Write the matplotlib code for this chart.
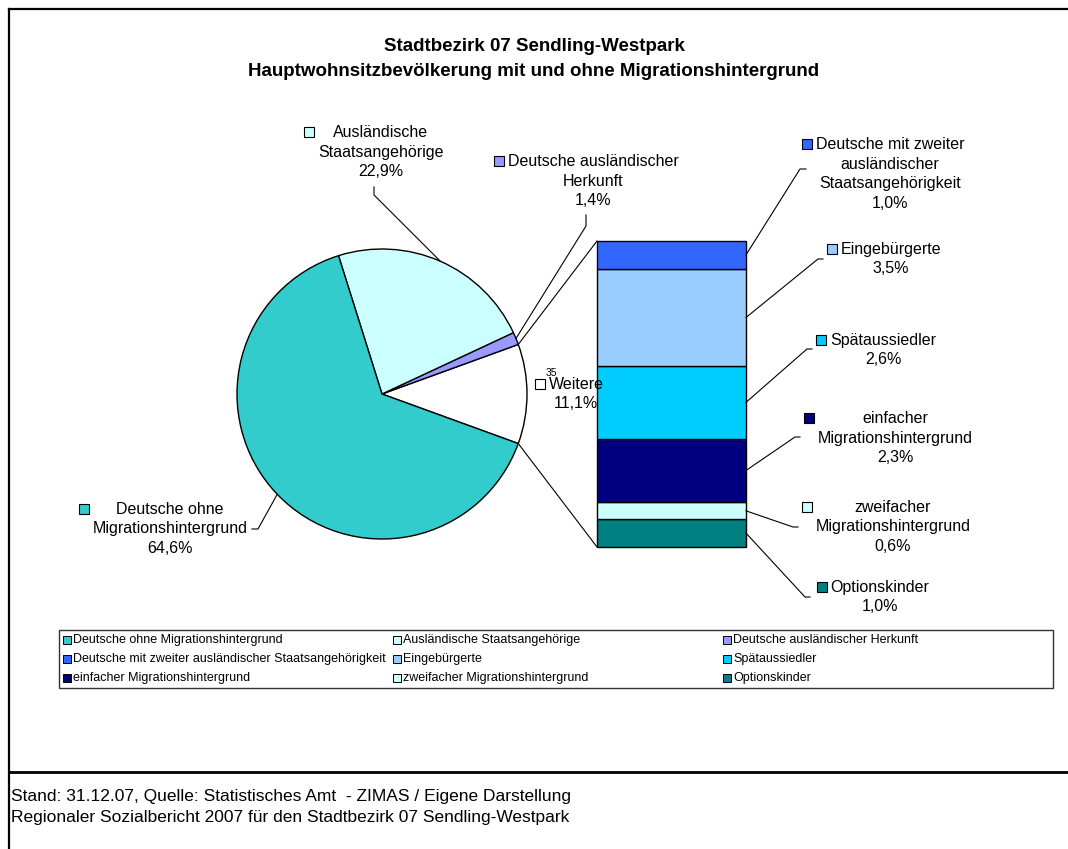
import matplotlib.pyplot as plt
import numpy as np
from matplotlib.patches import Rectangle

plt.rcParams['font.family'] = ['Liberation Sans', 'DejaVu Sans']

###############################################################################
# Data
pie_labels = ["Weitere", "Deutsche ausländischer Herkunft",
              "Ausländische Staatsangehörige",
              "Deutsche ohne Migrationshintergrund"]
pie_values = [11.1, 1.4, 22.9, 64.6]
pie_colors = ["#FFFFFF", "#9999FF", "#CCFFFF", "#33CCCC"]

# bar is stacked from the bottom up
bar_labels = ["Optionskinder", "zweifacher Migrationshintergrund",
              "einfacher Migrationshintergrund", "Spätaussiedler",
              "Eingebürgerte",
              "Deutsche mit zweiter ausländischer Staatsangehörigkeit"]
bar_values = [1.0, 0.6, 2.3, 2.6, 3.5, 1.0]
bar_colors = ["#008080", "#CCFFFF", "#000080", "#00CCFF", "#99CCFF", "#3366FF"]

# how the data labels break into lines
wrapped = {
    "Weitere": "Weitere",
    "Deutsche ausländischer Herkunft": "Deutsche ausländischer\nHerkunft",
    "Ausländische Staatsangehörige": "Ausländische\nStaatsangehörige",
    "Deutsche ohne Migrationshintergrund": "Deutsche ohne\nMigrationshintergrund",
    "Optionskinder": "Optionskinder",
    "zweifacher Migrationshintergrund": "zweifacher\nMigrationshintergrund",
    "einfacher Migrationshintergrund": "einfacher\nMigrationshintergrund",
    "Spätaussiedler": "Spätaussiedler",
    "Eingebürgerte": "Eingebürgerte",
    "Deutsche mit zweiter ausländischer Staatsangehörigkeit":
        "Deutsche mit zweiter\nausländischer\nStaatsangehörigkeit",
}

legend_order = ["Deutsche ohne Migrationshintergrund",
                "Ausländische Staatsangehörige",
                "Deutsche ausländischer Herkunft",
                "Deutsche mit zweiter ausländischer Staatsangehörigkeit",
                "Eingebürgerte", "Spätaussiedler",
                "einfacher Migrationshintergrund",
                "zweifacher Migrationshintergrund", "Optionskinder"]

title = ("Stadtbezirk 07 Sendling-Westpark\n"
         "Hauptwohnsitzbevölkerung mit und ohne Migrationshintergrund")
footer = ("Stand: 31.12.07, Quelle: Statistisches Amt  - ZIMAS / Eigene Darstellung\n"
          "Regionaler Sozialbericht 2007 für den Stadtbezirk 07 Sendling-Westpark")

###############################################################################
# Layout (pixels, y downwards)
W, H = 1068, 849
cx, cy, r = 382, 394, 145
bx0, bx1, by0, by1 = 597, 746, 241, 547

# label block centre, and leader points (elbow, stub end)
label_pos = {
    "Ausländische Staatsangehörige": ((381, 152), [(374, 195), (374, 187)]),
    "Deutsche ausländischer Herkunft": ((593, 181), [(586, 226), (586, 215)]),
    "Deutsche ohne Migrationshintergrund": ((170, 529), [(258, 529), (252, 529)]),
    "Weitere": ((576, 394), None),
    "Deutsche mit zweiter ausländischer Staatsangehörigkeit":
        ((890, 174), [(800, 169), (806, 169)]),
    "Eingebürgerte": ((891, 259), [(818, 259), (823, 259)]),
    "Spätaussiedler": ((883, 350), [(807, 349), (812, 349)]),
    "einfacher Migrationshintergrund": ((895, 438), [(795, 437), (800, 437)]),
    "zweifacher Migrationshintergrund": ((893, 527), [(793, 527), (798, 527)]),
    "Optionskinder": ((880, 597), [(805, 597), (810, 597)]),
}
LFS = 11.5
STEP = 20


def pct(v):
    return f"{v:.1f}".replace(".", ",") + "%"


fig = plt.figure(figsize=(W / 100, H / 100), dpi=100)

# Pie
pad = 1.02
axp = fig.add_axes([(cx - r * pad) / W, (H - cy - r * pad) / H,
                    2 * r * pad / W, 2 * r * pad / H])
start = -pie_values[0] * 1.8
axp.pie(pie_values, colors=pie_colors, startangle=start, counterclock=True,
        radius=1, wedgeprops=dict(edgecolor="black", linewidth=1))
axp.set_xlim(-pad, pad)
axp.set_ylim(-pad, pad)
axp.axis("off")

# Bar
axb = fig.add_axes([bx0 / W, (H - by1) / H, (bx1 - bx0) / W, (by1 - by0) / H])
bottoms = np.concatenate([[0], np.cumsum(bar_values)[:-1]])
bars = axb.bar(0, bar_values, bottom=bottoms, width=1, color=bar_colors,
               edgecolor="black", linewidth=1)
for b in bars:
    b.set_clip_on(False)
axb.set_xlim(-0.5, 0.5)
axb.set_ylim(0, sum(bar_values))
axb.axis("off")

# Overlay in pixel coordinates
ax = fig.add_axes([0, 0, 1, 1])
ax.set_xlim(0, W)
ax.set_ylim(H, 0)
ax.axis("off")
ax.patch.set_alpha(0)

# frame
ax.plot([9, 9], [9, H], color="black", lw=1.6)
ax.plot([9, W], [9, 9], color="black", lw=1.6)
ax.plot([9, W], [772, 772], color="black", lw=2.0)

ax.text(534, 59, title, ha="center", va="center", fontsize=13.5,
        fontweight="bold", linespacing=1.65)
ax.text(11, 807, footer, ha="left", va="center", fontsize=12.5,
        linespacing=1.42)

# anchor points on the marks
edges = start + np.concatenate([[0], np.cumsum(pie_values)]) * 3.6
anchor = {}
for i, name in enumerate(pie_labels):
    mid = np.deg2rad((edges[i] + edges[i + 1]) / 2)
    anchor[name] = (cx + r * np.cos(mid), cy - r * np.sin(mid))
scale = (by1 - by0) / sum(bar_values)
for i, name in enumerate(bar_labels):
    anchor[name] = (bx1, by1 - (bottoms[i] + bar_values[i] / 2) * scale)

# lines from the "Weitere" slice to the bar
for ang, by in [(edges[1], by0), (edges[0], by1)]:
    a = np.deg2rad(ang)
    ax.plot([cx + r * np.cos(a), bx0], [cy - r * np.sin(a), by],
            color="black", lw=0.8)

colors = dict(zip(pie_labels, pie_colors))
colors.update(zip(bar_labels, bar_colors))
values = dict(zip(pie_labels, pie_values))
values.update(zip(bar_labels, bar_values))

renderer = fig.canvas.get_renderer()
for name, ((tx, ty), leader) in label_pos.items():
    txt = wrapped[name] + "\n" + pct(values[name])
    t = ax.text(tx, ty, txt, ha="center", va="center", fontsize=LFS,
                linespacing=1.38, zorder=5)
    n = txt.count("\n") + 1
    bb = t.get_window_extent(renderer)
    y_first = ty - (n - 1) / 2 * STEP
    ax.add_patch(Rectangle((bb.x0 - 14, y_first - 5), 10, 10,
                           facecolor=colors[name], edgecolor="black",
                           lw=0.8, zorder=5))
    if leader:
        pts = [anchor[name]] + leader
        ax.plot([p[0] for p in pts], [p[1] for p in pts], color="black",
                lw=0.8)

ax.text(551, 373, "35", ha="center", va="center", fontsize=7.5)

# legend
ax.add_patch(Rectangle((59, 630), 994, 58, facecolor="white",
                       edgecolor="#333333", lw=1))
for k, name in enumerate(legend_order):
    row, col = divmod(k, 3)
    lx = 63 + col * 330
    ly = 640 + row * 19
    ax.add_patch(Rectangle((lx, ly - 4), 8, 8, facecolor=colors[name],
                           edgecolor="black", lw=0.7))
    ax.text(lx + 10, ly, name, ha="left", va="center", fontsize=9)

fig.savefig("out.png", dpi=100)
